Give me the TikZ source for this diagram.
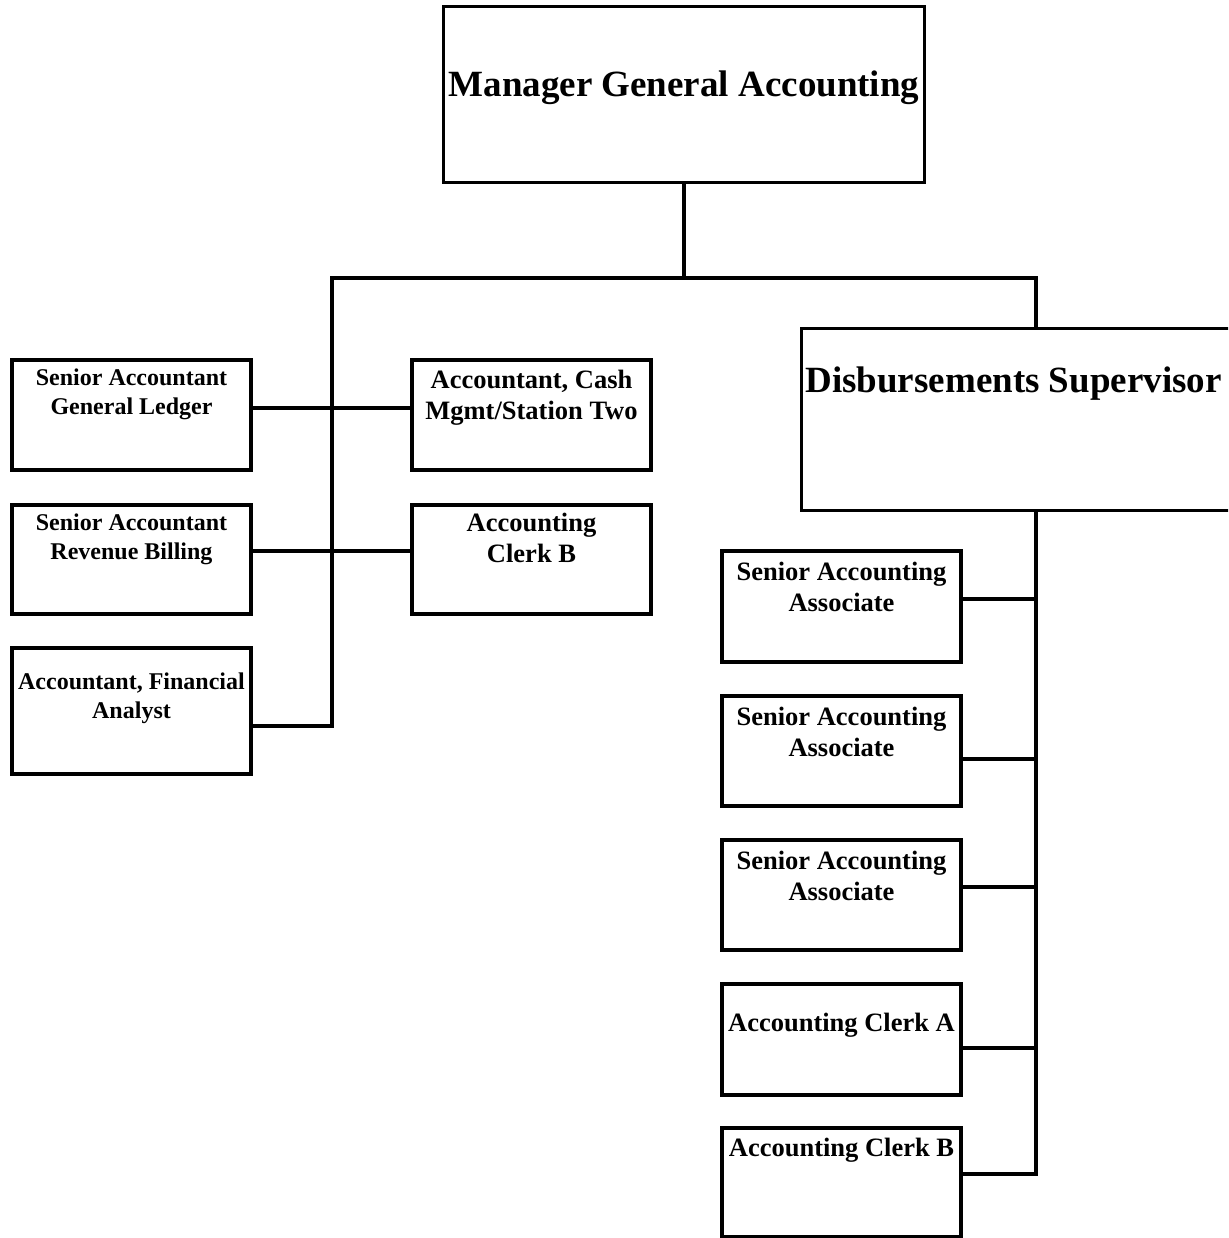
\documentclass[tikz,border=0pt]{standalone}
\usepackage{fontspec}
\setmainfont{Liberation Serif}
\usepackage{tikz}
\usetikzlibrary{positioning}
\tikzstyle{casella} = [rectangle, draw=black, line width=1.9pt, minimum width=119.5pt, minimum height=55pt, inner sep=0pt]
\tikzstyle{titolo} = [font=\fontsize{18.5}{22}\selectfont\bfseries, inner sep=0pt]
\tikzstyle{voce} = [font=\fontsize{12}{14.5}\selectfont\bfseries, align=center, inner sep=0pt]
\tikzstyle{voceg} = [font=\fontsize{13.25}{15.5}\selectfont\bfseries, align=center, inner sep=0pt]
\tikzstyle{linea} = [line width=1.9pt]
\begin{document}
\begin{tikzpicture}[x=0.5pt,y=-0.5pt]
	\path[use as bounding box, clip] (0,0) rectangle (1228,1238);
	\node (m) at (684,94.5) [casella, minimum width=240.5pt, minimum height=88pt] {};
	\node (d) at (1031.75,419.5) [casella, minimum width=230.25pt, minimum height=91pt] {};
	\node (l1) at (131.5,415) [casella] {};
	\node (l2) at (131.5,559.5) [casella, minimum height=54.5pt] {};
	\node (l3) at (131.5,711) [casella, minimum height=63pt] {};
	\node (c1) at (531.5,415) [casella] {};
	\node (c2) at (531.5,559.5) [casella, minimum height=54.5pt] {};
	\node (r1) at (841.5,606.5) [casella, minimum height=55.5pt] {};
	\node (r2) at (841.5,751) [casella] {};
	\node (r3) at (841.5,895) [casella] {};
	\node (r4) at (841.5,1039.5) [casella, minimum height=55.5pt] {};
	\node (r5) at (841.5,1182.5) [casella, minimum height=54.5pt] {};
	\node (tm) [titolo, below=33pt of m.north] {Manager General Accounting};
	\node (td) [titolo, below=20pt of d.north, xshift=-9.1pt] {Disbursements Supervisor};
	\node (tl1) [voce, below=5pt of l1.north] {Senior Accountant\\General Ledger};
	\node (tl2) [voce, below=5pt of l2.north] {Senior Accountant\\Revenue Billing};
	\node (tl3) [voce, below=13pt of l3.north] {Accountant, Financial\\Analyst};
	\node (tc1) [voceg, below=6pt of c1.north] {Accountant, Cash\\Mgmt/Station Two};
	\node (tc2) [voceg, below=5pt of c2.north] {Accounting\\Clerk B};
	\foreach \i in {1,2,3}
		\node (tr\i) [voceg, below=6.5pt of r\i.north] {Senior Accounting\\Associate};
	\node (tr4) [voceg, below=15.5pt of r4.north] {Accounting Clerk A};
	\node (tr5) [voceg, below=6pt of r5.north] {Accounting Clerk B};
	\coordinate (sx) at (332,278);
	\coordinate (dx) at (1036,278);
	\coordinate (g1) at (332,408);
	\coordinate (g2) at (332,551);
	\coordinate (g3) at (332,726);
	\coordinate (h1) at (1036,599);
	\coordinate (h2) at (1036,759);
	\coordinate (h3) at (1036,887);
	\coordinate (h4) at (1036,1048);
	\coordinate (h5) at (1036,1174);
	\draw[linea] (m.south) -- (m.south |- sx);
	\draw[linea] (l3.east |- g3) -- (g3) -- (sx) -- (dx) -- (dx |- d.north);
	\draw[linea] (l1.east |- g1) -- (c1.west |- g1);
	\draw[linea] (l2.east |- g2) -- (c2.west |- g2);
	\draw[linea] (dx |- d.south) -- (h5) -- (r5.east |- h5);
	\foreach \i in {1,...,4}
		\draw[linea] (r\i.east |- h\i) -- (h\i);
\end{tikzpicture}
\end{document}
